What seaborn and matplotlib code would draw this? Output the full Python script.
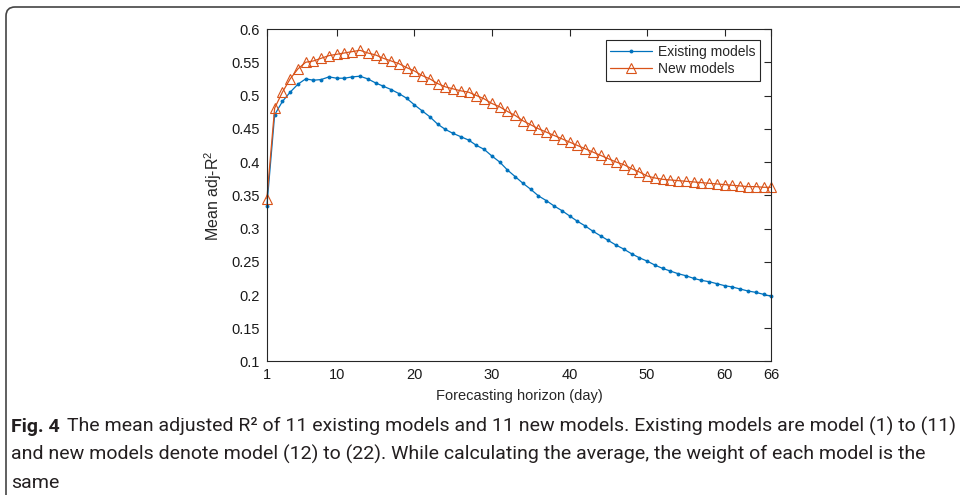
import matplotlib
matplotlib.use('Agg')
import matplotlib.pyplot as plt
import seaborn as sns
from matplotlib import font_manager
from matplotlib.patches import FancyBboxPatch
from matplotlib.transforms import IdentityTransform

# forecasting horizon (days) and mean adj-R2
horizon = list(range(1, 67))
existing = [0.334, 0.471, 0.491, 0.505, 0.517, 0.525, 0.523, 0.524, 0.528, 0.526,
            0.526, 0.528, 0.529, 0.525, 0.519, 0.514, 0.509, 0.503, 0.496, 0.486,
            0.477, 0.468, 0.457, 0.449, 0.443, 0.438, 0.433, 0.425, 0.419, 0.409,
            0.400, 0.388, 0.378, 0.368, 0.359, 0.349, 0.342, 0.334, 0.327, 0.319,
            0.311, 0.304, 0.296, 0.289, 0.282, 0.275, 0.269, 0.262, 0.256, 0.251,
            0.245, 0.240, 0.236, 0.232, 0.229, 0.225, 0.222, 0.220, 0.217, 0.214,
            0.212, 0.209, 0.206, 0.204, 0.201, 0.198]
new = [0.345, 0.481, 0.505, 0.525, 0.540, 0.550, 0.552, 0.556, 0.560, 0.562,
       0.564, 0.566, 0.568, 0.564, 0.561, 0.556, 0.552, 0.548, 0.542, 0.537,
       0.530, 0.525, 0.518, 0.513, 0.510, 0.507, 0.505, 0.500, 0.495, 0.488,
       0.483, 0.476, 0.470, 0.462, 0.456, 0.450, 0.445, 0.440, 0.435, 0.430,
       0.425, 0.420, 0.415, 0.410, 0.405, 0.400, 0.396, 0.390, 0.385, 0.379,
       0.376, 0.374, 0.373, 0.372, 0.371, 0.370, 0.369, 0.368, 0.367, 0.366,
       0.365, 0.364, 0.363, 0.363, 0.362, 0.362]

xticks = [1, 10, 20, 30, 40, 50, 60, 66]
yticks = [0.1, 0.15, 0.2, 0.25, 0.3, 0.35, 0.4, 0.45, 0.5, 0.55, 0.6]
ytick_labels = ['0.1', '0.15', '0.2', '0.25', '0.3', '0.35', '0.4', '0.45', '0.5', '0.55', '0.6']

fig_label = 'Fig. 4'
caption_lines = [
    'The mean adjusted R\u00b2 of 11 existing models and 11 new models. Existing models are model (1) to (11)',
    'and new models denote model (12) to (22). While calculating the average, the weight of each model is the',
    'same',
]

sns.set_style('white')
plt.rcParams['font.family'] = ['Liberation Sans', 'DejaVu Sans']
plt.rcParams['mathtext.default'] = 'regular'

fig = plt.figure(figsize=(9.6, 4.95), dpi=100)
ax = fig.add_axes([0.278, 0.2697, 0.5254, 0.6717])

sns.lineplot(x=horizon, y=existing, ax=ax, color='#0072BD', lw=0.9,
             marker='o', markersize=2.8, markeredgewidth=0, label='Existing models',
             clip_on=False)
sns.lineplot(x=horizon, y=new, ax=ax, color='#D95319', lw=0.9,
             marker='^', markersize=7.2, markerfacecolor='none',
             markeredgecolor='#D95319', markeredgewidth=0.8, label='New models',
             clip_on=False)

ax.set_xlim(1, 66)
ax.set_ylim(0.1, 0.6)
ax.set_xticks(xticks)
ax.set_xticklabels([str(t) for t in xticks])
ax.set_yticks(yticks)
ax.set_yticklabels(ytick_labels)
ax.tick_params(direction='in', length=5, width=0.8, top=True, right=True,
               labelsize=10.5, color='#262626', labelcolor='#1a1a1a', pad=5)
for s in ax.spines.values():
    s.set_color('#262626')
    s.set_linewidth(0.8)

ax.set_xlabel('Forecasting horizon (day)', fontsize=10.5, labelpad=5)
ax.set_ylabel('Mean adj-R$^2$', fontsize=11.5, labelpad=5)

leg = ax.legend(loc='upper right', bbox_to_anchor=(0.9776, 0.967), borderaxespad=0,
                fontsize=10, frameon=True, fancybox=False, edgecolor='#262626',
                framealpha=1, handlelength=3.0, borderpad=0.35, labelspacing=0.25,
                handletextpad=0.4)
leg.get_frame().set_linewidth(0.8)

# rounded frame around the figure, open at the right and bottom
frame = FancyBboxPatch((6, -60), 1100, 548, boxstyle='round,pad=0,rounding_size=9',
                       transform=IdentityTransform(), fill=False,
                       edgecolor='#444444', lw=1.2)
fig.add_artist(frame)

# caption
names = {f.name for f in font_manager.fontManager.ttflist}
cap_font = 'Liberation Sans Narrow' if 'Liberation Sans Narrow' in names else 'Roboto'
W, H = fig.get_size_inches() * fig.dpi
renderer = fig.canvas.get_renderer()
baselines = [432, 460, 488]
x0 = 11

size = 13
t_bold = fig.text(x0 / W, 1 - baselines[0] / H, fig_label, fontsize=size,
                  fontweight='bold', family=cap_font, color='#231f20', va='baseline')
texts = [fig.text(x0 / W, 1 - b / H, line, fontsize=size, family=cap_font,
                  color='#231f20', va='baseline')
         for line, b in zip(caption_lines, baselines)]
gap = 0.35 * size * 100 / 72
total = t_bold.get_window_extent(renderer).width + gap + texts[0].get_window_extent(renderer).width
size = size * 939 / total
t_bold.set_fontsize(size)
for t in texts:
    t.set_fontsize(size)
gap = 0.35 * size * 100 / 72
wb = t_bold.get_window_extent(renderer).width
texts[0].set_x((x0 + wb + gap) / W)

fig.savefig('out.png', dpi=100)
